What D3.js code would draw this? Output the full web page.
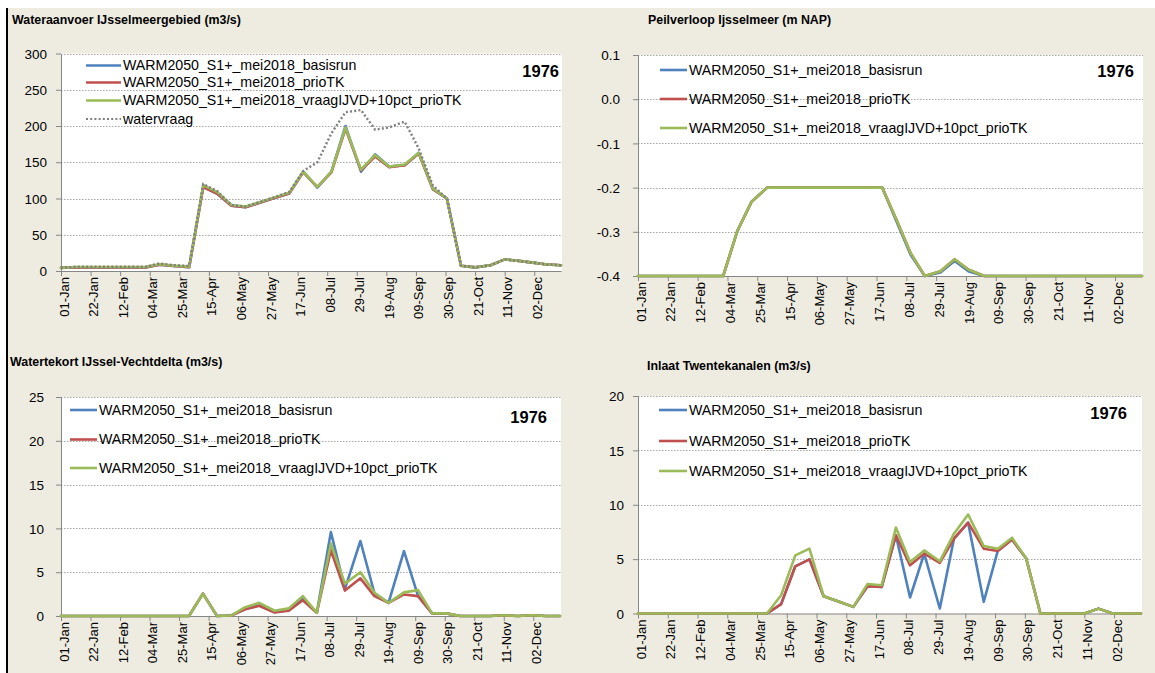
<!DOCTYPE html>
<html>
<head>
<meta charset="utf-8">
<script src="https://cdn.jsdelivr.net/npm/d3@7"></script>
<style>
  html, body { margin: 0; padding: 0; background: #ffffff; }
  svg { display: block; font-family: "Liberation Sans", Arial, sans-serif; }
</style>
</head>
<body>
<svg id="chart" width="1155" height="673"></svg>
<script>
// ---- data: ten-day (decade) values for 1976 ----
const dekadeDates = [
  "1976-01-01","1976-01-11","1976-01-21","1976-02-01","1976-02-11","1976-02-21",
  "1976-03-01","1976-03-11","1976-03-21","1976-04-01","1976-04-11","1976-04-21",
  "1976-05-01","1976-05-11","1976-05-21","1976-06-01","1976-06-11","1976-06-21",
  "1976-07-01","1976-07-11","1976-07-21","1976-08-01","1976-08-11","1976-08-21",
  "1976-09-01","1976-09-11","1976-09-21","1976-10-01","1976-10-11","1976-10-21",
  "1976-11-01","1976-11-11","1976-11-21","1976-12-01","1976-12-11","1976-12-21"
];
const tickLabels = ["01-Jan","22-Jan","12-Feb","04-Mar","25-Mar","15-Apr","06-May","27-May",
  "17-Jun","08-Jul","29-Jul","19-Aug","09-Sep","30-Sep","21-Oct","11-Nov","02-Dec"];
const yearText = "1976";
const seriesNames = [
  "WARM2050_S1+_mei2018_basisrun",
  "WARM2050_S1+_mei2018_prioTK",
  "WARM2050_S1+_mei2018_vraagIJVD+10pct_prioTK"
];
const demandName = "watervraag";
const seriesColors = ["#4F81BD", "#C0504D", "#9BBB59"];

// Wateraanvoer IJsselmeergebied (m3/s)
const aanvoerBasis = [4.5, 5, 5, 5, 5, 5, 5, 8.8, 6.8, 5.2, 116, 106.5, 90, 88, 94, 101, 107, 137, 115, 137, 200, 137, 161, 144, 146, 163, 113, 100, 7.3, 5, 8, 16, 14, 11.5, 9, 8];
const aanvoerPrio  = [4.5, 5, 5, 5, 5, 5, 5, 8.8, 6.8, 5.1, 115.7, 106.5, 90, 88, 94, 101, 107, 136, 116, 136, 196, 139, 158, 143, 146, 162, 113, 100, 7.3, 5, 8, 16, 14, 11.5, 9, 8];
const aanvoerVraag = [4, 5.6, 5.6, 5.6, 5.6, 5.6, 5.6, 9.3, 7.4, 6, 118.5, 108.8, 91, 88.9, 94.9, 101.9, 108, 137, 116, 137, 198, 140, 160, 144, 147, 163, 114, 100, 7.3, 5, 8, 16, 14, 11.5, 9, 8];
const waterVraag   = [4, 5.8, 5.8, 5.8, 5.8, 5.8, 5.8, 10.5, 8, 7, 120, 110, 91, 89, 95, 102, 109, 138, 150, 190, 219, 222, 195, 198, 206, 169, 118, 100, 7.3, 5, 8, 16, 14, 11.5, 9, 8];

// Peilverloop IJsselmeer (m NAP)
const peilBasis = [-0.4, -0.4, -0.4, -0.4, -0.4, -0.4, -0.4, -0.298, -0.232, -0.2, -0.2, -0.2, -0.2, -0.2, -0.2, -0.2, -0.2, -0.2, -0.276, -0.352, -0.4, -0.392, -0.366, -0.39, -0.4, -0.4, -0.4, -0.4, -0.4, -0.4, -0.4, -0.4, -0.4, -0.4, -0.4, -0.4];
const peilPrio  = [-0.4, -0.4, -0.4, -0.4, -0.4, -0.4, -0.4, -0.298, -0.232, -0.2, -0.2, -0.2, -0.2, -0.2, -0.2, -0.2, -0.2, -0.2, -0.272, -0.348, -0.4, -0.389, -0.362, -0.386, -0.4, -0.4, -0.4, -0.4, -0.4, -0.4, -0.4, -0.4, -0.4, -0.4, -0.4, -0.4];
const peilVraag = [-0.4, -0.4, -0.4, -0.4, -0.4, -0.4, -0.4, -0.298, -0.232, -0.2, -0.2, -0.2, -0.2, -0.2, -0.2, -0.2, -0.2, -0.2, -0.272, -0.348, -0.4, -0.389, -0.362, -0.386, -0.4, -0.4, -0.4, -0.4, -0.4, -0.4, -0.4, -0.4, -0.4, -0.4, -0.4, -0.4];

// Watertekort IJssel-Vechtdelta (m3/s)
const tekortBasis = [0, 0, 0, 0, 0, 0, 0, 0, 0, 0, 2.55, 0, 0.05, 0.8, 1.2, 0.45, 0.65, 2.0, 0.38, 9.58, 3.1, 8.56, 2.6, 1.5, 7.4, 2.3, 0.3, 0.3, 0, 0, 0, 0.08, 0, 0.08, 0, 0];
const tekortPrio  = [0, 0, 0, 0, 0, 0, 0, 0, 0, 0, 2.55, 0, 0.05, 0.76, 1.17, 0.4, 0.6, 1.8, 0.38, 7.5, 2.9, 4.3, 2.27, 1.5, 2.46, 2.27, 0.3, 0.3, 0, 0, 0, 0.08, 0, 0.08, 0, 0];
const tekortVraag = [0, 0, 0, 0, 0, 0, 0, 0, 0, 0, 2.55, 0, 0.05, 1.0, 1.5, 0.6, 0.87, 2.27, 0.38, 8.26, 3.7, 5.0, 2.65, 1.5, 2.7, 2.95, 0.3, 0.3, 0, 0, 0, 0.08, 0, 0.08, 0, 0];

// Inlaat Twentekanalen (m3/s)
const inlaatBasis = [0, 0, 0, 0, 0, 0, 0, 0, 0, 0, 0.86, 4.34, 4.98, 1.59, 1.13, 0.61, 2.5, 2.45, 7.19, 1.47, 5.5, 0.46, 6.88, 8.35, 1.07, 5.8, 6.8, 5.05, 0, 0, 0, 0, 0.45, 0, 0, 0];
const inlaatPrio  = [0, 0, 0, 0, 0, 0, 0, 0, 0, 0, 0.86, 4.34, 4.98, 1.59, 1.13, 0.61, 2.5, 2.45, 7.19, 4.43, 5.5, 4.65, 6.88, 8.35, 5.96, 5.75, 6.8, 5.05, 0, 0, 0, 0, 0.45, 0, 0, 0];
const inlaatVraag = [0, 0, 0, 0, 0, 0, 0, 0, 0, 0, 1.68, 5.35, 5.96, 1.59, 1.13, 0.61, 2.72, 2.6, 7.9, 4.74, 5.8, 4.8, 7.34, 9.1, 6.2, 5.96, 6.97, 5.05, 0, 0, 0, 0, 0.45, 0, 0, 0];

// axis tick values
const aanvoerTicks = [0, 50, 100, 150, 200, 250, 300];
const peilTicks = [-0.4, -0.3, -0.2, -0.1, 0.0, 0.1];
const tekortTicks = [0, 5, 10, 15, 20, 25];
const inlaatTicks = [0, 5, 10, 15, 20];

const titles = [
  "Wateraanvoer IJsselmeergebied (m3/s)",
  "Peilverloop Ijsselmeer (m NAP)",
  "Watertekort IJssel-Vechtdelta (m3/s)",
  "Inlaat Twentekanalen (m3/s)"
];

// ---- drawing ----
const parseDate = d3.timeParse("%Y-%m-%d");
const parseTick = d3.timeParse("%d-%b-%Y");
const dates = dekadeDates.map(parseDate);
const tickDates = tickLabels.map(t => parseTick(t + "-1976"));

const svg = d3.select("#chart");
const BG = "#EEECE1";
const AXIS = "#868686";
const GRID = "#A6A6A6";

// sheet background and left border
svg.append("rect").attr("x", 0).attr("y", 0).attr("width", 1155).attr("height", 673).attr("fill", "#ffffff");
svg.append("rect").attr("x", 8).attr("y", 8).attr("width", 1147).attr("height", 665).attr("fill", BG);
svg.append("line").attr("x1", 7).attr("x2", 7).attr("y1", 8).attr("y2", 673)
  .attr("stroke", "#000").attr("stroke-width", 2);

const panels = [
  {
    title: titles[0], titleX: 12, titleY: 20,
    x0: 61, x1: 561, y0: 53.5, y1: 271,
    domain: [0, 300], ticks: aanvoerTicks, fmt: d => String(d), labelRight: 47,
    series: [aanvoerBasis, aanvoerPrio, aanvoerVraag], demand: waterVraag,
    legX0: 86, legX1: 121, legText: 123, legRows: [65.5, 82.5, 100.5, 119],
    yearRight: 559, yearY: 71
  },
  {
    title: titles[1], titleX: 648, titleY: 20,
    x0: 638, x1: 1142, y0: 55, y1: 276,
    domain: [-0.4, 0.1], ticks: peilTicks, fmt: d => d.toFixed(1), labelRight: 620,
    series: [peilBasis, peilPrio, peilVraag], demand: null,
    legX0: 660, legX1: 687, legText: 689, legRows: [70, 99, 128],
    yearRight: 1134, yearY: 71
  },
  {
    title: titles[2], titleX: 10, titleY: 362,
    x0: 61, x1: 560, y0: 397, y1: 616,
    domain: [0, 25], ticks: tekortTicks, fmt: d => String(d), labelRight: 44,
    series: [tekortBasis, tekortPrio, tekortVraag], demand: null,
    legX0: 70, legX1: 97, legText: 99, legRows: [410, 439.5, 468],
    yearRight: 547, yearY: 417
  },
  {
    title: titles[3], titleX: 647, titleY: 366,
    x0: 638, x1: 1141, y0: 396, y1: 613.5,
    domain: [0, 20], ticks: inlaatTicks, fmt: d => String(d), labelRight: 624,
    series: [inlaatBasis, inlaatPrio, inlaatVraag], demand: null,
    legX0: 659, legX1: 687, legText: 689, legRows: [410, 441, 471],
    yearRight: 1127, yearY: 413
  }
];

function drawPanel(p) {
  const g = svg.append("g");
  const x = d3.scaleTime().domain([dates[0], dates[dates.length - 1]]).range([p.x0, p.x1]);
  const y = d3.scaleLinear().domain(p.domain).range([p.y1, p.y0]);

  // title
  g.append("text").attr("x", p.titleX).attr("y", p.titleY).attr("dy", "0.35em")
    .attr("font-size", 12.4).attr("font-weight", "bold").attr("fill", "#000")
    .text(p.title);

  // plot area
  g.append("rect").attr("x", p.x0).attr("y", p.y0)
    .attr("width", p.x1 - p.x0 + 1).attr("height", p.y1 - p.y0).attr("fill", "#fff");

  // horizontal gridlines
  g.append("g").selectAll("line")
    .data(p.ticks.filter(t => t !== p.domain[0]))
    .join("line")
    .attr("x1", p.x0).attr("x2", p.x1 + 1)
    .attr("y1", d => Math.round(y(d)) + 0.5).attr("y2", d => Math.round(y(d)) + 0.5)
    .attr("stroke", GRID).attr("stroke-width", 1).attr("stroke-dasharray", "1.5,1.5");

  // y axis
  const yAxis = g.append("g").attr("transform", `translate(${p.x0},0)`)
    .call(d3.axisLeft(y).tickValues(p.ticks).tickFormat(p.fmt).tickSize(5).tickSizeOuter(0));
  yAxis.select(".domain").attr("stroke", AXIS);
  yAxis.selectAll(".tick line").attr("stroke", AXIS);
  yAxis.selectAll(".tick text")
    .attr("x", -(p.x0 - p.labelRight)).attr("dy", "0.35em")
    .attr("font-size", 13.5).attr("fill", "#000")
    .attr("font-family", "'Liberation Sans', Arial, sans-serif");

  // x axis
  const xAxis = g.append("g").attr("transform", `translate(0,${p.y1})`)
    .call(d3.axisBottom(x).tickValues(tickDates).tickFormat((d, i) => tickLabels[i])
      .tickSize(5).tickSizeOuter(0));
  xAxis.select(".domain").attr("stroke", AXIS);
  xAxis.selectAll(".tick line").attr("stroke", AXIS);
  xAxis.selectAll(".tick text")
    .attr("transform", "rotate(-90)")
    .attr("text-anchor", "end")
    .attr("x", -6).attr("y", 2.5).attr("dy", "0.35em")
    .attr("font-size", 13).attr("fill", "#000")
    .attr("font-family", "'Liberation Sans', Arial, sans-serif");

  // series lines
  const line = d3.line().x((d, i) => x(dates[i])).y(d => y(d));
  p.series.forEach((vals, k) => {
    g.append("path").datum(vals)
      .attr("d", line).attr("fill", "none")
      .attr("stroke", seriesColors[k]).attr("stroke-width", 2.6)
      .attr("stroke-linejoin", "round").attr("stroke-linecap", "round");
  });
  if (p.demand) {
    g.append("path").datum(p.demand)
      .attr("d", line).attr("fill", "none")
      .attr("stroke", "#7F7F7F").attr("stroke-width", 2.4)
      .attr("stroke-dasharray", "2,2.2");
  }

  // legend
  const leg = g.append("g");
  const entries = seriesNames.map((n, k) => ({ name: n, color: seriesColors[k], dash: null }));
  if (p.demand) entries.push({ name: demandName, color: "#7F7F7F", dash: "2,2.2" });
  entries.forEach((e, k) => {
    const yy = p.legRows[k];
    leg.append("line").attr("x1", p.legX0).attr("x2", p.legX1)
      .attr("y1", yy).attr("y2", yy)
      .attr("stroke", e.color).attr("stroke-width", e.dash ? 2 : 2.6)
      .attr("stroke-dasharray", e.dash);
    leg.append("text").attr("x", p.legText).attr("y", yy).attr("dy", "0.35em")
      .attr("font-size", 14.2).attr("fill", "#000").text(e.name);
  });

  // year label
  g.append("text").attr("x", p.yearRight).attr("y", p.yearY).attr("dy", "0.35em")
    .attr("text-anchor", "end").attr("font-size", 16.5).attr("font-weight", "bold")
    .attr("fill", "#000").text(yearText);
}

panels.forEach(drawPanel);
</script>
</body>
</html>
